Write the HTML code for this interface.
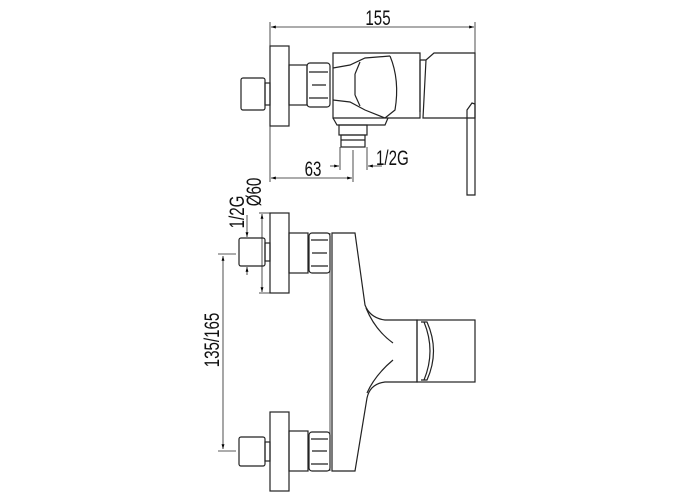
<!DOCTYPE html>
<html><head><style>html,body{margin:0;padding:0;background:#fff}svg{display:block}</style></head>
<body>
<svg width="700" height="500" viewBox="0 0 700 500" xmlns="http://www.w3.org/2000/svg" font-family="Liberation Sans, sans-serif">
<defs>
<marker id="a" viewBox="0 0 10 6" refX="10" refY="3" markerWidth="6" markerHeight="4" orient="auto-start-reverse"><path d="M0,0L10,3L0,6z" fill="#000"/></marker>
</defs>
<g fill="none" stroke="#222" stroke-width="1.2">
<line x1="270" y1="22" x2="270" y2="182" stroke-width="0.8"/>
<line x1="475" y1="22" x2="475" y2="58" stroke-width="0.8"/>
<line x1="271" y1="27" x2="474" y2="27" stroke-width="0.8" marker-start="url(#a)" marker-end="url(#a)"/>
<rect x="270" y="46" width="19" height="80"/>
<rect x="241" y="78" width="24" height="32" rx="2"/>
<rect x="265" y="83" width="5" height="22"/>
<rect x="289" y="65" width="18" height="40"/>
<rect x="307" y="63" width="23" height="44" rx="3"/>
<path d="M309,72 L328,72 M309,98 L328,98 M312,85 L326,85"/>
<path d="M333,53 L420,53 L420,118 L333,118 Z"/>
<path d="M333,68 L350,65 L365,58 L390,56 M333,100 L350,102 L365,110 L385,118"/>
<path d="M355,74 L360,62 M355,95 L360,106 M355,74 L355,95"/>
<path d="M390,56 Q400,80 395,110 L385,118"/>
<path d="M420,60 L426,60 L434,53 L475,53 L475,118 L423,118 L426,60"/>
<path d="M420,60 L420,112"/>
<path d="M467,110 L472,103 L475,104 L475,195 L467,195 Z"/>
<path d="M333,118 L337,125 L385,125 L388,118"/>
<rect x="339" y="125" width="28" height="10"/>
<rect x="341" y="135" width="24" height="12"/>
<path d="M341,140 L365,140"/>
<line x1="340" y1="147" x2="340" y2="170" stroke-width="0.8"/>
<line x1="367" y1="147" x2="367" y2="170" stroke-width="0.8"/>
<line x1="353" y1="150" x2="353" y2="182" stroke-width="0.8"/>
<line x1="330" y1="166" x2="339" y2="166" stroke-width="0.8" marker-end="url(#a)"/>
<line x1="382" y1="166" x2="368" y2="166" stroke-width="0.8" marker-end="url(#a)"/>
<line x1="271" y1="178" x2="352" y2="178" stroke-width="0.8" marker-start="url(#a)" marker-end="url(#a)"/>
<rect x="270" y="213" width="19" height="80"/>
<rect x="239" y="238" width="26" height="28" rx="2"/>
<rect x="265" y="243" width="5" height="18"/>
<rect x="289" y="233" width="19" height="40"/>
<rect x="309" y="233" width="21" height="40" rx="3"/>
<path d="M311,240 L328,240 M311,266 L328,266 M312,253 L327,253"/>
<rect x="270" y="412" width="19" height="79"/>
<rect x="239" y="437" width="26" height="29" rx="2"/>
<rect x="265" y="442" width="5" height="19"/>
<rect x="289" y="431" width="19" height="40"/>
<rect x="309" y="432" width="21" height="39" rx="3"/>
<path d="M311,439 L328,439 M311,464 L328,464 M312,451 L327,451"/>
<path d="M332,233 L355,233 L365,305 Q370,318 385,320 L417,320 L417,382 L385,382 Q370,384 367,398 L355,471 L332,471 Z"/>
<path d="M366,308 Q375,330 393,343 M393,360 Q375,375 367,393"/>
<path d="M330,233 L330,471" stroke-width="0.8"/>
<rect x="417" y="320" width="58" height="62"/>
<path d="M421,322 L427,322 Q440,351 427,380 L421,380 M424,322 Q436,351 424,380"/>
<line x1="223" y1="256" x2="223" y2="449" stroke-width="0.8" marker-start="url(#a)" marker-end="url(#a)"/>
<line x1="218" y1="254" x2="236" y2="254" stroke-width="0.8"/>
<line x1="218" y1="451" x2="236" y2="451" stroke-width="0.8"/>
<line x1="262" y1="214" x2="262" y2="292" stroke-width="0.8" marker-start="url(#a)" marker-end="url(#a)"/>
<line x1="259" y1="213" x2="270" y2="213" stroke-width="0.8"/>
<line x1="259" y1="293" x2="270" y2="293" stroke-width="0.8"/>
<line x1="247" y1="215" x2="247" y2="237" stroke-width="0.8" marker-end="url(#a)"/>
<line x1="247" y1="275" x2="247" y2="267" stroke-width="0.8" marker-end="url(#a)"/>
</g>
<g fill="#111" font-size="21">
<text transform="translate(378,25) scale(0.72,1)" text-anchor="middle">155</text>
<text transform="translate(313,176) scale(0.72,1)" text-anchor="middle">63</text>
<text transform="translate(376,165) scale(0.72,1)">1/2G</text>
<text transform="translate(219,340) rotate(-90) scale(0.72,1)" text-anchor="middle">135/165</text>
<text transform="translate(261,192) rotate(-90) scale(0.72,1)" text-anchor="middle">Ø60</text>
<text transform="translate(244,212) rotate(-90) scale(0.72,1)" text-anchor="middle">1/2G</text>
</g>
</svg>
</body></html>
